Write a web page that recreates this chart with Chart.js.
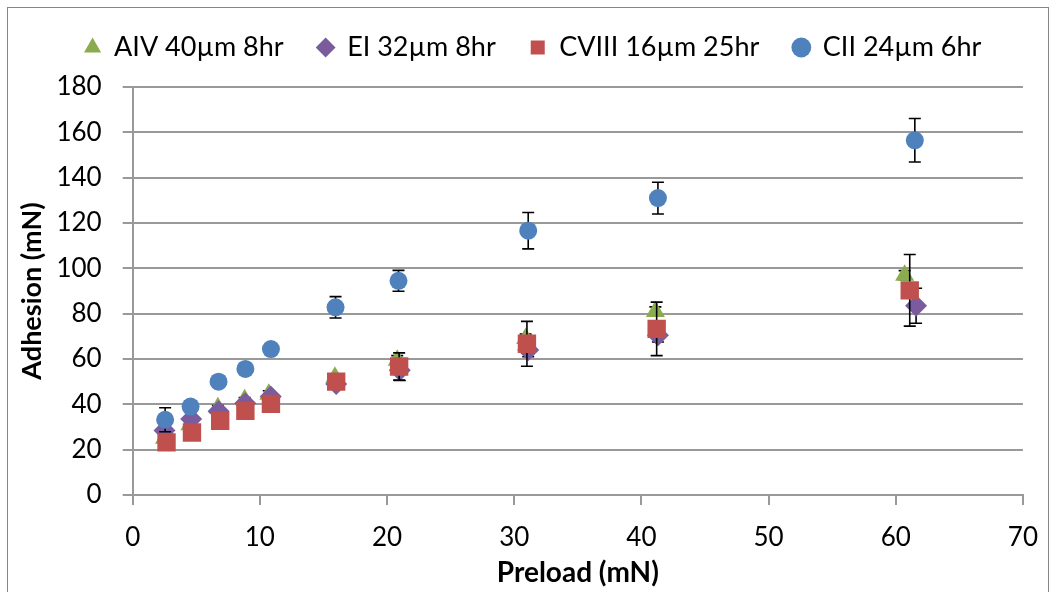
<!DOCTYPE html>
<html>
<head>
<meta charset="utf-8">
<script src="https://cdn.jsdelivr.net/npm/chart.js@4/dist/chart.umd.min.js"></script>
<style>
  body { margin: 0; background: #fff; }
  #wrap { width: 1055px; height: 592px; }
</style>
</head>
<body>
<div id="wrap"><canvas id="adhesionChart" width="1055" height="592"></canvas></div>
<script>
// Data (preload vs adhesion, mean +/- error)

const aivX = [2.5, 4.5, 6.7, 8.8, 10.7, 15.9, 20.8, 30.9, 41.1, 60.7];
const aivY = [25, 31, 38.5, 42, 44.5, 52, 59.5, 69, 81, 97];
const aivErr = [1, 1, 1, 1, 1.5, 1.5, 2, 2, 2, 2];

const eiX = [2.5, 4.6, 6.75, 8.85, 10.85, 16.0, 21.0, 31.1, 41.3, 61.6];
const eiY = [28.5, 33.5, 37, 40.5, 43.5, 49, 55, 64, 70.5, 83.5];
const eiErr = [1, 1, 1, 1, 1, 1.5, 4.5, 3, 3, 7.7];

const cviiiX = [2.66, 4.66, 6.88, 8.86, 10.87, 16.0, 20.95, 31.0, 41.2, 61.1];
const cviiiY = [23.2, 27.6, 32.7, 37.1, 40.2, 50.0, 56.7, 66.7, 73.3, 90.3];
const cviiiErr = [1, 1, 1, 1.5, 1.5, 1.5, 6, 9.9, 11.8, 15.8];

const ciiX = [2.55, 4.55, 6.75, 8.86, 10.87, 15.95, 20.9, 31.1, 41.3, 61.5];
const ciiY = [33.2, 39.0, 50.0, 55.6, 64.4, 82.8, 94.5, 116.6, 131.0, 156.5];
const ciiErr = [5.3, 2.5, 1, 1, 1, 4.7, 4.6, 8, 7, 9.6];

const xTicks = [0, 10, 20, 30, 40, 50, 60, 70];
const yTicks = [0, 20, 40, 60, 80, 100, 120, 140, 160, 180];

function points(xs, ys) {
  return xs.map((x, i) => ({ x: x, y: ys[i] }));
}

Chart.defaults.font.family = 'Lato, "Open Sans", sans-serif';
Chart.defaults.color = '#000';

// Draw each series' error bars just before its markers
const errorBars = {
  id: 'errorBars',
  beforeDatasetDraw(chart, args) {
    const ds = chart.data.datasets[args.index];
    if (!ds.errors) return;
    const ctx = chart.ctx;
    const xs = chart.scales.x;
    const ys = chart.scales.y;
    ctx.save();
    ctx.strokeStyle = '#000';
    ctx.lineWidth = 1.6;
    ds.data.forEach((p, i) => {
      const e = ds.errors[i];
      const px = xs.getPixelForValue(p.x);
      const top = ys.getPixelForValue(p.y + e);
      const bot = ys.getPixelForValue(p.y - e);
      ctx.beginPath();
      ctx.moveTo(px, top);
      ctx.lineTo(px, bot);
      ctx.moveTo(px - 6, top);
      ctx.lineTo(px + 6, top);
      ctx.moveTo(px - 6, bot);
      ctx.lineTo(px + 6, bot);
      ctx.stroke();
    });
    ctx.restore();
  }
};

// Outer gray frame of the chart
const frame = {
  id: 'frame',
  beforeDraw(chart) {
    const ctx = chart.ctx;
    ctx.save();
    ctx.fillStyle = '#fff';
    ctx.fillRect(0, 0, chart.width, chart.height);
    ctx.strokeStyle = '#868686';
    ctx.lineWidth = 1;
    ctx.strokeRect(7.5, 7.5, 1041, 620);
    ctx.restore();
  }
};

// Extra room under the legend, and nudge it a little to the right
const legendTweak = {
  id: 'legendTweak',
  beforeLayout(chart) {
    const lg = chart.legend;
    if (lg && !lg._tweaked) {
      const fit = lg.fit;
      lg.fit = function () {
        fit.call(this);
        this.height += 16;
      };
      lg._tweaked = true;
    }
  },
  afterLayout(chart) {
    chart.legend.left += 14;
    chart.legend.right += 14;
  }
};

const ctx = document.getElementById('adhesionChart').getContext('2d');

const adhesionChart = new Chart(ctx, {
  type: 'scatter',
  data: {
    datasets: [
      {
        label: 'AIV 40µm 8hr',
        data: points(aivX, aivY),
        errors: aivErr,
        pointStyle: 'triangle',
        pointRadius: 11,
        backgroundColor: '#8AAB4E',
        borderColor: '#8AAB4E',
        borderWidth: 0,
        order: 3
      },
      {
        label: 'EI 32µm 8hr',
        data: points(eiX, eiY),
        errors: eiErr,
        pointStyle: 'rectRot',
        pointRadius: 11,
        backgroundColor: '#7A5C9E',
        borderColor: '#7A5C9E',
        borderWidth: 0,
        order: 2
      },
      {
        label: 'CVIII 16µm 25hr',
        data: points(cviiiX, cviiiY),
        errors: cviiiErr,
        pointStyle: 'rect',
        pointRadius: 13,
        backgroundColor: '#C0504D',
        borderColor: '#C0504D',
        borderWidth: 0,
        order: 1
      },
      {
        label: 'CII 24µm 6hr',
        data: points(ciiX, ciiY),
        errors: ciiErr,
        pointStyle: 'circle',
        pointRadius: 9,
        backgroundColor: '#4F81BD',
        borderColor: '#4F81BD',
        borderWidth: 0,
        order: 0
      }
    ]
  },
  options: {
    responsive: false,
    animation: false,
    devicePixelRatio: 1,
    layout: { padding: { left: 10, right: 27, top: 0, bottom: 0 } },
    plugins: {
      tooltip: { enabled: false },
      legend: {
        position: 'top',
        labels: {
          usePointStyle: true,
          boxWidth: 16,
          boxHeight: 14,
          padding: 34,
          font: { size: 27 },
          sort: (a, b) => a.datasetIndex - b.datasetIndex
        }
      }
    },
    scales: {
      x: {
        type: 'linear',
        min: xTicks[0],
        max: xTicks[xTicks.length - 1],
        afterBuildTicks: (scale) => { scale.ticks = xTicks.map(v => ({ value: v })); },
        afterFit: (scale) => { scale.height = 97; },
        grid: { drawOnChartArea: false, drawTicks: true, tickLength: 10, color: '#999', lineWidth: 2 },
        border: { color: '#999', width: 2 },
        ticks: { padding: 17, font: { size: 26 }, maxRotation: 0 },
        title: { display: true, text: 'Preload (mN)', font: { size: 28, weight: 'bold' }, padding: { top: 0, bottom: 2 } }
      },
      y: {
        type: 'linear',
        min: yTicks[0],
        max: yTicks[yTicks.length - 1],
        afterBuildTicks: (scale) => { scale.ticks = yTicks.map(v => ({ value: v })); },
        afterFit: (scale) => { scale.width = 122.7; },
        grid: { drawOnChartArea: true, drawTicks: true, tickLength: 10, color: '#999', lineWidth: 2 },
        border: { color: '#999', width: 2 },
        ticks: { padding: 21, font: { size: 26 } },
        title: { display: true, text: 'Adhesion (mN)', font: { size: 27, weight: 'bold' }, padding: { top: 6, bottom: 0 } }
      }
    }
  },
  plugins: [frame, errorBars, legendTweak]
});
</script>
</body>
</html>
